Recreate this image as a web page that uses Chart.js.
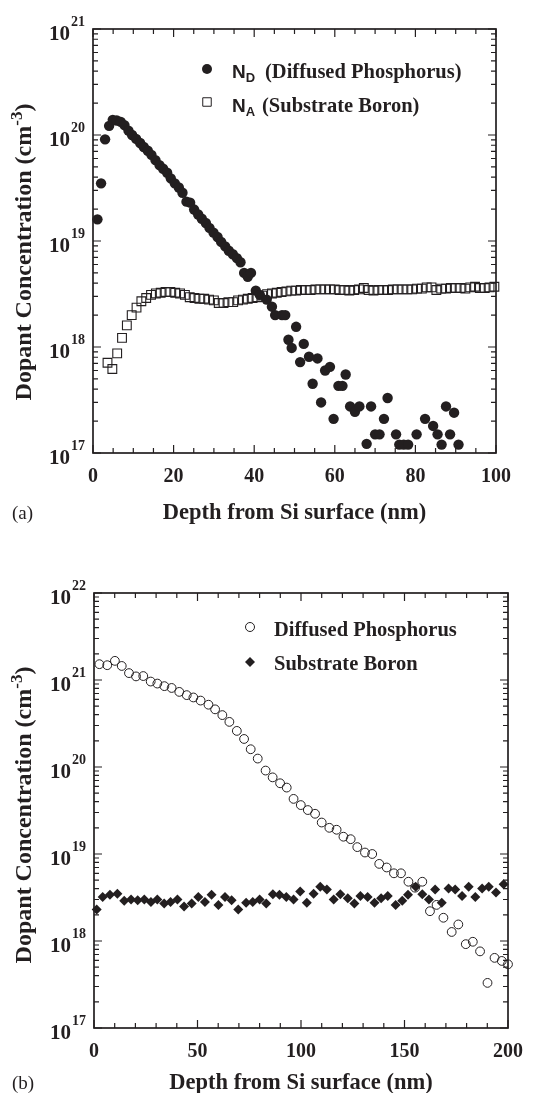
<!DOCTYPE html>
<html>
<head>
<meta charset="utf-8">
<title>Dopant concentration profiles</title>
<script src="https://cdn.jsdelivr.net/npm/chart.js@4.4.1/dist/chart.umd.min.js"></script>
<style>
  html, body { margin: 0; padding: 0; background: #fff; }
  .panel { position: absolute; left: 0; width: 550px; }
  #wrapA { top: 0; height: 540px; }
  #wrapB { top: 540px; height: 553px; }
</style>
</head>
<body>
<div class="panel" id="wrapA"><canvas id="chartA" width="550" height="540"></canvas></div>
<div class="panel" id="wrapB"><canvas id="chartB" width="550" height="553"></canvas></div>
<script>
/* ---------- panel (a): depth in nm, concentration in cm^-3 ---------- */
const depthA_P = [
  1.1, 2.0, 3.0, 4.0, 4.9, 5.9, 6.9, 7.8, 8.8, 9.7,
  10.7, 11.7, 12.6, 13.6, 14.5, 15.5, 16.5, 17.4, 18.4, 19.3,
  20.3, 21.3, 22.2, 23.2, 24.1, 25.1, 26.1, 27.0, 28.0, 28.9,
  29.9, 30.9, 31.8, 32.8, 33.7, 34.7, 35.7, 36.6,
  37.5, 38.4, 39.2, 40.4, 41.4, 43.1, 44.4, 45.2, 46.9, 47.7,
  48.5, 49.3, 50.4, 51.4, 52.3, 53.6, 54.5, 55.7, 56.6, 57.6,
  58.8, 59.7, 60.9, 61.9, 62.7, 63.8, 65.0, 66.1, 67.9, 69.0,
  70.0, 71.1, 72.2, 73.1, 75.2, 76.0, 77.1, 78.2, 80.3, 82.4,
  84.4, 85.5, 86.5, 87.6, 88.6, 89.6, 90.7
];
const concA_P = [
  1.6e19, 3.5e19, 9.1e19, 1.22e20, 1.39e20, 1.37e20, 1.33e20, 1.24e20, 1.1e20, 1.0e20,
  9.2e19, 8.4e19, 7.7e19, 7.1e19, 6.5e19, 5.8e19, 5.2e19, 4.8e19, 4.4e19, 3.9e19,
  3.5e19, 3.2e19, 2.85e19, 2.35e19, 2.3e19, 1.98e19, 1.78e19, 1.62e19, 1.48e19, 1.33e19,
  1.2e19, 1.09e19, 9.8e18, 8.9e18, 8.1e18, 7.5e18, 6.9e18, 6.3e18,
  5.0e18, 4.6e18, 5.0e18, 3.4e18, 3.1e18, 2.8e18, 2.4e18, 2.0e18, 2.0e18, 2.0e18,
  1.17e18, 9.8e17, 1.55e18, 7.2e17, 1.07e18, 8.1e17, 4.5e17, 7.8e17, 3.0e17, 6.0e17,
  6.5e17, 2.1e17, 4.3e17, 4.3e17, 5.5e17, 2.75e17, 2.45e17, 2.75e17, 1.22e17, 2.75e17,
  1.5e17, 1.5e17, 2.1e17, 3.3e17, 1.5e17, 1.2e17, 1.2e17, 1.2e17, 1.5e17, 2.1e17,
  1.8e17, 1.5e17, 1.2e17, 2.75e17, 1.5e17, 2.4e17, 1.2e17
];
const depthA_B = [
  3.6, 4.8, 6.0, 7.2, 8.4, 9.6, 10.8, 12.0, 13.2, 14.4,
  15.6, 16.8, 18.0, 19.2, 20.4, 21.6, 22.8, 24.0, 25.2, 26.4,
  27.6, 28.8, 30.0, 31.2, 32.4, 33.6, 34.8, 36.0, 37.2, 38.4,
  39.6, 40.8, 42.0, 43.2, 44.4, 45.6, 46.8, 48.0, 49.2, 50.4,
  51.6, 52.8, 54.0, 55.2, 56.4, 57.6, 58.8, 60.0, 61.2, 62.4,
  63.6, 64.8, 66.0, 67.2, 68.4, 69.6, 70.8, 72.0, 73.2, 74.4,
  75.6, 76.8, 78.0, 79.2, 80.4, 81.6, 82.8, 84.0, 85.2, 86.4,
  87.6, 88.8, 90.0, 91.2, 92.4, 93.6, 94.8, 96.0, 97.2, 98.4,
  99.6
];
const concA_B = [
  7.1e17, 6.2e17, 8.7e17, 1.22e18, 1.6e18, 2.0e18, 2.35e18, 2.7e18, 2.9e18, 3.1e18,
  3.2e18, 3.25e18, 3.3e18, 3.3e18, 3.25e18, 3.2e18, 3.1e18, 2.95e18, 2.9e18, 2.85e18,
  2.85e18, 2.8e18, 2.75e18, 2.6e18, 2.6e18, 2.65e18, 2.65e18, 2.75e18, 2.8e18, 2.85e18,
  2.9e18, 2.95e18, 3.05e18, 3.15e18, 3.2e18, 3.25e18, 3.3e18, 3.35e18, 3.4e18, 3.4e18,
  3.45e18, 3.45e18, 3.45e18, 3.5e18, 3.5e18, 3.5e18, 3.5e18, 3.5e18, 3.45e18, 3.45e18,
  3.4e18, 3.45e18, 3.5e18, 3.6e18, 3.45e18, 3.4e18, 3.45e18, 3.45e18, 3.45e18, 3.5e18,
  3.5e18, 3.5e18, 3.5e18, 3.5e18, 3.55e18, 3.55e18, 3.65e18, 3.65e18, 3.45e18, 3.55e18,
  3.55e18, 3.6e18, 3.6e18, 3.6e18, 3.55e18, 3.65e18, 3.7e18, 3.6e18, 3.6e18, 3.65e18,
  3.7e18
];

/* ---------- panel (b) ---------- */
const depthB_P = [
  2.6, 6.4, 10.1, 13.4, 16.9, 20.3, 23.8, 27.4, 30.6, 34.0,
  37.5, 41.2, 44.8, 48.0, 51.5, 55.3, 58.5, 62.0, 65.4, 69.0,
  72.5, 75.7, 79.1, 82.9, 86.3, 89.9, 93.1, 96.4, 99.9, 103.3,
  106.8, 110.0, 113.7, 117.2, 120.5, 124.0, 127.2, 130.9, 134.4, 137.8,
  141.4, 144.9, 148.3, 151.9, 155.1, 158.6, 162.3, 165.5, 168.8, 172.8,
  176.0, 179.6, 183.0, 186.5, 190.1, 193.5, 197.0, 200.0
];
const concB_P = [
  1.52e21, 1.48e21, 1.66e21, 1.45e21, 1.2e21, 1.1e21, 1.11e21, 9.6e20, 9.1e20, 8.5e20,
  8.1e20, 7.3e20, 6.7e20, 6.3e20, 5.8e20, 5.2e20, 4.6e20, 3.95e20, 3.3e20, 2.6e20,
  2.1e20, 1.6e20, 1.25e20, 9.1e19, 7.6e19, 6.5e19, 5.8e19, 4.3e19, 3.65e19, 3.2e19,
  2.9e19, 2.3e19, 2.0e19, 1.9e19, 1.58e19, 1.48e19, 1.2e19, 1.04e19, 1.0e19, 7.7e18,
  7.0e18, 6.0e18, 6.0e18, 4.8e18, 4.1e18, 4.8e18, 2.2e18, 2.6e18, 1.85e18, 1.27e18,
  1.55e18, 9.2e17, 9.8e17, 7.6e17, 3.3e17, 6.4e17, 5.9e17, 5.4e17
];
const depthB_B = [
  1.3, 4.2, 7.7, 11.3, 14.6, 17.9, 21.1, 24.3, 27.5, 30.6,
  33.9, 37.0, 40.3, 43.5, 47.2, 50.4, 53.6, 56.8, 60.1, 63.3,
  66.5, 69.7, 73.5, 76.7, 80.0, 83.2, 86.4, 89.6, 92.9, 96.4,
  99.6, 102.8, 106.1, 109.3, 112.5, 115.8, 119.0, 122.6, 125.8, 128.7,
  132.2, 135.5, 138.7, 141.9, 145.7, 148.9, 151.7, 155.4, 158.6, 161.8,
  164.8, 168.0, 171.3, 174.5, 177.8, 181.0, 184.2, 187.5, 190.7, 194.2,
  197.9
];
const concB_B = [
  2.3e18, 3.2e18, 3.4e18, 3.5e18, 2.9e18, 3.0e18, 2.95e18, 3.0e18, 2.8e18, 3.0e18,
  2.7e18, 2.8e18, 3.0e18, 2.5e18, 2.7e18, 3.2e18, 2.8e18, 3.4e18, 2.6e18, 3.2e18,
  2.95e18, 2.3e18, 2.75e18, 2.8e18, 3.0e18, 2.7e18, 3.45e18, 3.4e18, 3.2e18, 3.0e18,
  3.7e18, 2.75e18, 3.5e18, 4.2e18, 3.9e18, 3.0e18, 3.45e18, 3.1e18, 2.7e18, 3.3e18,
  3.2e18, 2.75e18, 3.1e18, 3.3e18, 2.6e18, 2.9e18, 3.4e18, 4.2e18, 3.45e18, 3.0e18,
  3.9e18, 2.75e18, 4.0e18, 3.9e18, 3.3e18, 4.2e18, 3.2e18, 4.0e18, 4.2e18, 3.6e18,
  4.5e18
];

// tick labels
const xLabelsA = [0, 20, 40, 60, 80, 100];
const xLabelsB = [0, 50, 100, 150, 200];
const yExpA = [17, 18, 19, 20, 21];
const yExpB = [17, 18, 19, 20, 21, 22];

const ink = "#231f20";
const serif = '"Liberation Serif", "Times New Roman", serif';
const sans = '"Liberation Sans", Arial, sans-serif';

const pts = (xs, ys) => xs.map((x, i) => ({ x: x, y: ys[i] }));

// per-panel plugin: frame, inward ticks on all four sides, labels, titles, legend
function paperAxes(o) {
  return {
    id: "paperAxes",
    beforeDatasetsDraw(chart) {
      const { ctx, chartArea: a, scales } = chart;
      const x = scales.x, y = scales.y;
      ctx.save();
      ctx.strokeStyle = ink;
      ctx.lineWidth = 1.2;
      ctx.beginPath();
      for (let v = x.min; v <= x.max + 1e-6; v += o.xMinor) {
        const px = x.getPixelForValue(v);
        const len = o.xLabels.includes(v) ? 8 : 5;
        ctx.moveTo(px, a.bottom); ctx.lineTo(px, a.bottom - len);
        ctx.moveTo(px, a.top); ctx.lineTo(px, a.top + len);
      }
      const e0 = o.yExp[0], e1 = o.yExp[o.yExp.length - 1];
      for (let e = e0; e <= e1; e++) {
        for (let m = 1; m <= 9; m++) {
          if (e === e1 && m > 1) break;
          const py = y.getPixelForValue(m * Math.pow(10, e));
          const len = m === 1 ? 8 : 5;
          ctx.moveTo(a.left, py); ctx.lineTo(a.left + len, py);
          ctx.moveTo(a.right, py); ctx.lineTo(a.right - len, py);
        }
      }
      ctx.stroke();
      ctx.lineWidth = 1.7;
      ctx.strokeRect(a.left, a.top, a.right - a.left, a.bottom - a.top);
      ctx.restore();
    },
    afterDraw(chart) {
      const { ctx, chartArea: a, scales } = chart;
      const x = scales.x, y = scales.y;
      ctx.save();
      ctx.fillStyle = ink;
      ctx.textBaseline = "alphabetic";

      // x tick labels
      ctx.font = "bold 20px " + serif;
      ctx.textAlign = "center";
      o.xLabels.forEach(v => ctx.fillText(String(v), x.getPixelForValue(v), a.bottom + 29));

      // y tick labels: 10 with exponent
      o.yExp.forEach(e => {
        const py = y.getPixelForValue(Math.pow(10, e));
        ctx.font = "bold 21px " + serif;
        ctx.textAlign = "right";
        ctx.fillText("10", a.left - 23, py + 11);
        ctx.font = "bold 14px " + serif;
        ctx.textAlign = "left";
        ctx.fillText(String(e), a.left - 22, py - 3);
      });

      // x title and panel tag
      ctx.font = "bold 22.5px " + serif;
      ctx.textAlign = "center";
      ctx.fillText("Depth from Si surface (nm)", (a.left + a.right) / 2, o.xTitleY);
      ctx.font = "19px " + serif;
      ctx.textAlign = "left";
      ctx.fillText(o.tag, 12, o.xTitleY);

      // y title, rotated, with superscript -3
      ctx.save();
      ctx.translate(31, o.yTitleMid);
      ctx.rotate(-Math.PI / 2);
      const mainFont = "bold 24px " + serif, supFont = "bold 17px " + serif;
      ctx.font = mainFont;
      const t1 = "Dopant Concentration (cm", t3 = ")";
      const w1 = ctx.measureText(t1).width, w3 = ctx.measureText(t3).width;
      ctx.font = supFont;
      const w2 = ctx.measureText("-3").width;
      let cx = -(w1 + w2 + w3) / 2;
      ctx.textAlign = "left";
      ctx.font = mainFont; ctx.fillText(t1, cx, 0); cx += w1;
      ctx.font = supFont; ctx.fillText("-3", cx, -9); cx += w2;
      ctx.font = mainFont; ctx.fillText(t3, cx, 0);
      ctx.restore();

      // legend
      o.legend.forEach(item => {
        drawMarker(ctx, item.marker, item.mx, item.my, item.r);
        let tx = item.tx;
        ctx.fillStyle = ink;
        ctx.textAlign = "left";
        item.parts.forEach(p => {
          ctx.font = p.font;
          if (p.at) tx = p.at;
          ctx.fillText(p.text, tx, item.ty + (p.dy || 0));
          tx += ctx.measureText(p.text).width;
        });
      });
      ctx.restore();
    }
  };
}

function drawMarker(ctx, kind, x, y, r) {
  ctx.save();
  ctx.strokeStyle = ink;
  ctx.fillStyle = ink;
  ctx.lineWidth = 1;
  ctx.beginPath();
  if (kind === "dot") { ctx.arc(x, y, r, 0, Math.PI * 2); ctx.fill(); }
  if (kind === "ring") { ctx.arc(x, y, r, 0, Math.PI * 2); ctx.stroke(); }
  if (kind === "box") { ctx.rect(x - r * 0.707, y - r * 0.707, r * 1.414, r * 1.414); ctx.stroke(); }
  if (kind === "diamond") {
    ctx.moveTo(x - r, y); ctx.lineTo(x, y - r); ctx.lineTo(x + r, y); ctx.lineTo(x, y + r);
    ctx.closePath(); ctx.fill();
  }
  ctx.restore();
}

function makePanel(el, p) {
  const W = el.width, H = el.height;
  return new Chart(el, {
    type: "scatter",
    data: { datasets: p.datasets },
    options: {
      responsive: false,
      devicePixelRatio: 1,
      animation: false,
      events: [],
      layout: { padding: { left: 0, top: p.area.top, right: W - p.area.right, bottom: 0 } },
      plugins: { legend: { display: false }, tooltip: { enabled: false } },
      scales: {
        x: {
          type: "linear", min: p.xMin, max: p.xMax,
          ticks: { display: false }, grid: { display: false }, border: { display: false },
          afterFit: s => { s.height = H - p.area.bottom; }
        },
        y: {
          type: "logarithmic", min: p.yMin, max: p.yMax,
          ticks: { display: false }, grid: { display: false }, border: { display: false },
          afterFit: s => { s.width = p.area.left; }
        }
      }
    },
    plugins: [paperAxes(p.axes)]
  });
}

makePanel(document.getElementById("chartA"), {
  area: { left: 93, right: 496, top: 29, bottom: 453 },
  xMin: 0, xMax: 100, yMin: 1e17, yMax: 1e21,
  datasets: [
    {
      label: "ND (Diffused Phosphorus)", data: pts(depthA_P, concA_P), order: 2, clip: false,
      pointStyle: "circle", pointRadius: 5.2, backgroundColor: ink, borderColor: ink, borderWidth: 0
    },
    {
      label: "NA (Substrate Boron)", data: pts(depthA_B, concA_B), order: 1, clip: false,
      pointStyle: "rect", pointRadius: 6.2, backgroundColor: "rgba(0,0,0,0)", borderColor: ink, borderWidth: 1.1
    }
  ],
  axes: {
    xMinor: 5, xLabels: xLabelsA, yExp: yExpA, tag: "(a)", xTitleY: 519, yTitleMid: 252,
    legend: [
      { marker: "dot", mx: 207, my: 69, r: 5, tx: 232, ty: 78, parts: [
        { text: "N", font: "bold 19px " + sans },
        { text: "D", font: "bold 13px " + sans, dy: 4 },
        { text: "(Diffused Phosphorus)", font: "bold 20.5px " + serif, at: 265 }
      ] },
      { marker: "box", mx: 207, my: 102, r: 6, tx: 232, ty: 112, parts: [
        { text: "N", font: "bold 19px " + sans },
        { text: "A", font: "bold 13px " + sans, dy: 4 },
        { text: "(Substrate Boron)", font: "bold 20.5px " + serif, at: 262 }
      ] }
    ]
  }
});

makePanel(document.getElementById("chartB"), {
  area: { left: 94, right: 508, top: 53, bottom: 488 },
  xMin: 0, xMax: 200, yMin: 1e17, yMax: 1e22,
  datasets: [
    {
      label: "Diffused Phosphorus", data: pts(depthB_P, concB_P), order: 2, clip: false,
      pointStyle: "circle", pointRadius: 4.4, backgroundColor: "rgba(0,0,0,0)", borderColor: ink, borderWidth: 1
    },
    {
      label: "Substrate Boron", data: pts(depthB_B, concB_B), order: 1, clip: false,
      pointStyle: "rectRot", pointRadius: 5, backgroundColor: ink, borderColor: ink, borderWidth: 0
    }
  ],
  axes: {
    xMinor: 10, xLabels: xLabelsB, yExp: yExpB, tag: "(b)", xTitleY: 549, yTitleMid: 275,
    legend: [
      { marker: "ring", mx: 250, my: 87, r: 4.5, tx: 274, ty: 96, parts: [
        { text: "Diffused Phosphorus", font: "bold 20.5px " + serif }
      ] },
      { marker: "diamond", mx: 250, my: 122, r: 5, tx: 274, ty: 130, parts: [
        { text: "Substrate Boron", font: "bold 20.5px " + serif }
      ] }
    ]
  }
});
</script>
</body>
</html>
